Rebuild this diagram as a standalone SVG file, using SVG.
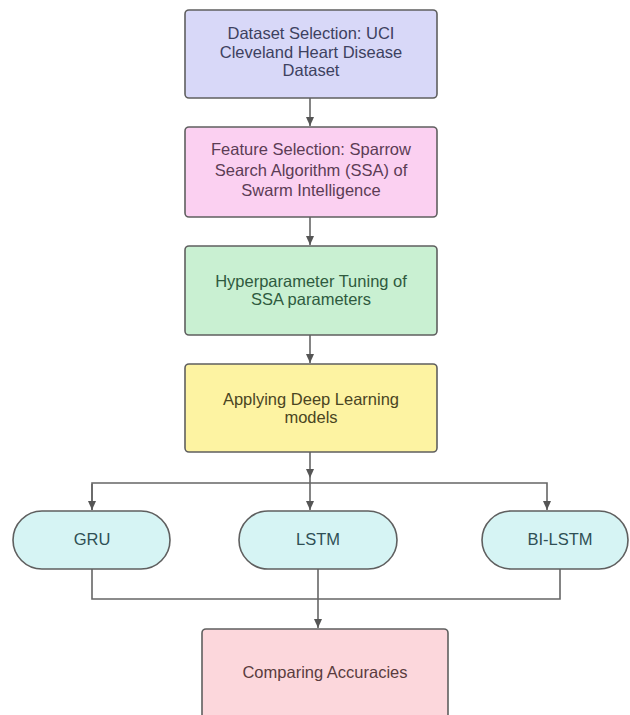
<svg xmlns="http://www.w3.org/2000/svg" width="630" height="715" viewBox="0 0 630 715">
<style>
.box{stroke:#5f5f5f;stroke-width:1.6}
.t{font-family:"Liberation Sans",Arial,sans-serif;font-size:16.5px;text-anchor:middle}
.c{fill:none;stroke:#666;stroke-width:1.6}
</style>
<defs>
<marker id="ah" markerWidth="10" markerHeight="10" refX="9" refY="5" orient="auto" markerUnits="userSpaceOnUse">
<path d="M0,1 L9,5 L0,9 Z" fill="#555"/>
</marker>
</defs>
<rect width="630" height="715" fill="#fff"/>
<g id="connectors">
<line class="c" x1="310" y1="98" x2="310" y2="126" marker-end="url(#ah)"/>
<line class="c" x1="310" y1="217" x2="310" y2="245" marker-end="url(#ah)"/>
<line class="c" x1="310" y1="335" x2="310" y2="363" marker-end="url(#ah)"/>
<line class="c" x1="310" y1="452" x2="310" y2="478" marker-end="url(#ah)"/>
<polyline class="c" points="92,510 92,483 547,483 547,510" marker-end="url(#ah)"/>
<line class="c" x1="92" y1="484" x2="92" y2="510" marker-end="url(#ah)"/>
<line class="c" x1="310" y1="478" x2="310" y2="510" marker-end="url(#ah)"/>
<polyline class="c" points="92,569 92,599 560,599 560,569"/>
<line class="c" x1="318" y1="569" x2="318" y2="628" marker-end="url(#ah)"/>
</g>
<g id="n1">
<rect class="box" x="185" y="10" width="252" height="88" rx="4" fill="#d8d8f8"/>
<text class="t" fill="#3d4160"><tspan x="311" y="39">Dataset Selection: UCI</tspan><tspan x="311" y="58">Cleveland Heart Disease</tspan><tspan x="311" y="76">Dataset</tspan></text>
</g>
<g id="n2">
<rect class="box" x="185" y="127" width="252" height="90" rx="4" fill="#fbd0f1"/>
<text class="t" fill="#5b3c55"><tspan x="311" y="155">Feature Selection: Sparrow</tspan><tspan x="311" y="176">Search Algorithm (SSA) of</tspan><tspan x="311" y="196">Swarm Intelligence</tspan></text>
</g>
<g id="n3">
<rect class="box" x="185" y="246" width="252" height="89" rx="4" fill="#c9f0d2"/>
<text class="t" fill="#2f5a3e"><tspan x="311" y="287">Hyperparameter Tuning of</tspan><tspan x="311" y="305">SSA parameters</tspan></text>
</g>
<g id="n4">
<rect class="box" x="185" y="364" width="252" height="88" rx="4" fill="#fdf3a2"/>
<text class="t" fill="#4a4522"><tspan x="311" y="405">Applying Deep Learning</tspan><tspan x="311" y="423">models</tspan></text>
</g>
<g id="gru">
<rect class="box" x="13" y="511" width="157" height="58" rx="29" fill="#d6f4f4"/>
<text class="t" fill="#2f4f55" x="92" y="545">GRU</text>
</g>
<g id="lstm">
<rect class="box" x="239" y="511" width="158" height="58" rx="29" fill="#d6f4f4"/>
<text class="t" fill="#2f4f55" x="318" y="545">LSTM</text>
</g>
<g id="bilstm">
<rect class="box" x="482" y="511" width="146" height="58" rx="29" fill="#d6f4f4"/>
<text class="t" fill="#2f4f55" x="560" y="545">BI-LSTM</text>
</g>
<g id="n5">
<rect class="box" x="202" y="629" width="246" height="100" rx="4" fill="#fcd7dc"/>
<text class="t" fill="#5a3c3e" x="325" y="678">Comparing Accuracies</text>
</g>
</svg>
